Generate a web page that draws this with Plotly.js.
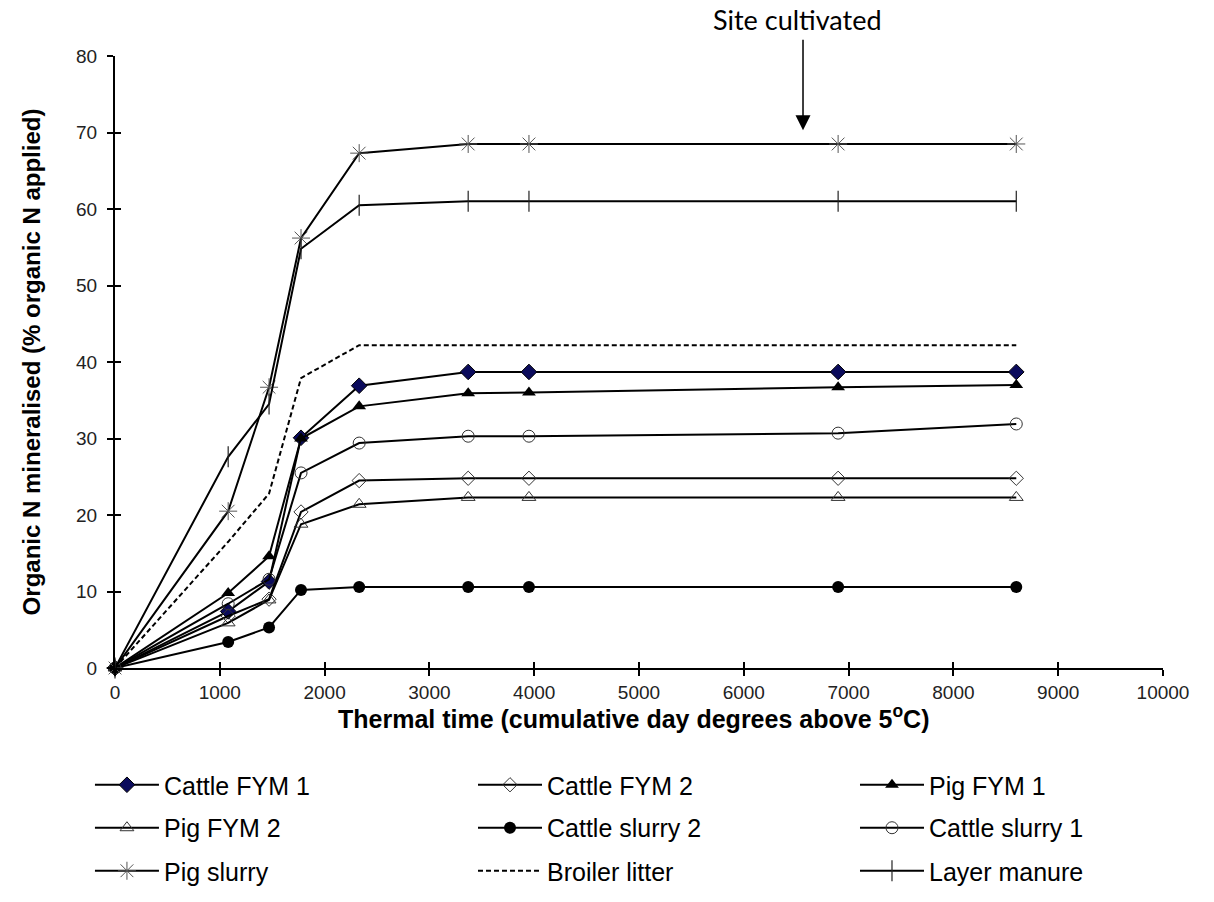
<!DOCTYPE html>
<html>
<head>
<meta charset="utf-8">
<script src="https://cdn.plot.ly/plotly-3.0.1.min.js"></script>
<style>html,body{margin:0;padding:0;background:#fff;}#chart{width:1214px;height:902px;}</style>
</head>
<body>
<div id="chart"></div>
<script>
// Thermal time (cumulative day degrees above 5 C)
const thermalTime = [0, 1080, 1470, 1775, 2330, 3370, 3950, 6900, 8600];

const cattleFYM1    = [0, 7.4, 11.3, 30.1, 36.9, 38.7, 38.7, 38.7, 38.7];
const cattleFYM2    = [0, 6.8, 9.0, 20.4, 24.5, 24.8, 24.8, 24.8, 24.8];
const pigFYM1       = [0, 9.8, 14.6, 30.0, 34.2, 35.9, 36.0, 36.7, 37.0];
const pigFYM2       = [0, 5.9, 8.9, 18.8, 21.4, 22.3, 22.3, 22.3, 22.3];
const cattleSlurry2 = [0, 3.4, 5.3, 10.2, 10.6, 10.6, 10.6, 10.6, 10.6];
const cattleSlurry1 = [0, 8.4, 11.6, 25.5, 29.4, 30.3, 30.3, 30.7, 31.9];
const pigSlurry     = [0, 20.5, 36.7, 56.2, 67.3, 68.5, 68.5, 68.5, 68.5];
const broilerLitter = [0, 16.5, 22.8, 37.9, 42.2, 42.2, 42.2, 42.2, 42.2];
const layerManure   = [0, 27.6, 34.5, 54.8, 60.5, 61.0, 61.0, 61.0, 61.0];

const seriesNames = ["Cattle FYM 1", "Cattle FYM 2", "Pig FYM 1",
                     "Pig FYM 2", "Cattle slurry 2", "Cattle slurry 1",
                     "Pig slurry", "Broiler litter", "Layer manure"];

const xTickVals = [0,1000,2000,3000,4000,5000,6000,7000,8000,9000,10000];
const xTickText = ["0","1000","2000","3000","4000","5000","6000","7000","8000","9000","10000"];
const yTickVals = [0,10,20,30,40,50,60,70,80];
const yTickText = ["0","10","20","30","40","50","60","70","80"];

const xTitle = 'Thermal time (cumulative day degrees above 5<sup>o</sup>C)';
const yTitle = 'Organic N mineralised (% organic N applied)';
const noteText = 'Site cultivated';
const cultivatedX = 6565, cultivatedY = 70.3;

const legendIds = ['legend','legend2','legend3','legend4','legend5','legend6','legend7','legend8','legend9'];

function tr(i, y, marker, lineExtra) {
  const t = {
    x: thermalTime, y: y, name: seriesNames[i], type: 'scatter',
    mode: marker ? 'lines+markers' : 'lines',
    line: Object.assign({color: '#000', width: 2}, lineExtra || {}),
    legend: legendIds[i], cliponaxis: false
  };
  if (marker) t.marker = marker;
  return t;
}

const data = [
  tr(0, cattleFYM1, {symbol:'diamond', size:12, color:'#0b0b5c', line:{color:'#000', width:1}}),
  tr(1, cattleFYM2, {symbol:'diamond-open', size:11, color:'#333', line:{width:1}}),
  tr(2, pigFYM1, {symbol:'triangle-up', size:12, color:'#000'}),
  tr(3, pigFYM2, {symbol:'triangle-up-open', size:12, color:'#333', line:{width:1}}),
  tr(4, cattleSlurry2, {symbol:'circle', size:12, color:'#000'}),
  tr(5, cattleSlurry1, {symbol:'circle-open', size:12, color:'#333', line:{width:1}}),
  tr(6, pigSlurry, {symbol:'asterisk-open', size:15, color:'#555', line:{width:1}}),
  tr(7, broilerLitter, null, {dash:'5px,3px', width:2}),
  tr(8, layerManure, {symbol:'line-ns-open', size:15, color:'#222', line:{width:1.2}})
];

// invisible helper trace so the overlay axes (crossing tick marks) are drawn
data.push({x:[0], y:[0], xaxis:'x2', yaxis:'y2', type:'scatter', mode:'markers',
           marker:{opacity:0}, showlegend:false, hoverinfo:'skip'});

const FONT = 'Liberation Sans, Arial, sans-serif';
const tickFont = {family:FONT, size:19, color:'#222'};
const legFont = {family:FONT, size:25, color:'#000'};

const colX = [-0.0239, 0.3416, 0.7061];
const rowY = [-0.1912, -0.2614, -0.3317];

const layout = {
  width:1214, height:902,
  margin:{l:115, r:51, t:56, b:234, autoexpand:false},
  paper_bgcolor:'#fff', plot_bgcolor:'#fff',
  font:{family:FONT, color:'#000'},
  showlegend:true,
  xaxis:{
    range:[0,10000], tickvals:xTickVals, ticktext:xTickText, ticks:'outside', ticklen:6, tickwidth:2, tickcolor:'#000',
    showline:true, linecolor:'#000', linewidth:2, showgrid:false, zeroline:false,
    tickfont:tickFont, ticklabelstandoff:0, automargin:false
  },
  yaxis:{
    range:[0,80], tickvals:yTickVals, ticktext:yTickText, ticks:'outside', ticklen:6, tickwidth:2, tickcolor:'#000',
    showline:true, linecolor:'#000', linewidth:2, showgrid:false, zeroline:false,
    tickfont:tickFont, ticklabelstandoff:6, automargin:false,
    title:{text:'<b>' + yTitle + '</b>', font:{family:FONT, size:24, color:'#000'}, standoff:29}
  },
  xaxis2:{overlaying:'x', anchor:'y2', side:'bottom', range:[0,10000], tickvals:xTickVals,
          ticks:'inside', ticklen:6, tickwidth:2, tickcolor:'#000', showticklabels:false,
          showline:false, showgrid:false, zeroline:false},
  yaxis2:{overlaying:'y', anchor:'x2', side:'left', range:[0,80], tickvals:yTickVals,
          ticks:'inside', ticklen:6, tickwidth:2, tickcolor:'#000', showticklabels:false,
          showline:false, showgrid:false, zeroline:false},
  annotations:[
    {x:cultivatedX, y:cultivatedY, xref:'x', yref:'y', text:'', showarrow:true,
     ax:0, ay:-92, arrowhead:2, arrowsize:2, arrowwidth:1.5, arrowcolor:'#000'},
    {x:(797-115)/1048, y:(668-20)/612, xref:'paper', yref:'paper', text:noteText,
     showarrow:false, xanchor:'center', yanchor:'middle',
     font:{family:'Lato, Open Sans, sans-serif', size:27, color:'#000'}},
    {x:(633-115)/1048, y:(668-717)/612, xref:'paper', yref:'paper', text:'<b>' + xTitle + '</b>',
     showarrow:false, xanchor:'center', yanchor:'middle',
     font:{family:FONT, size:25, color:'#000'}}
  ]
};

legendIds.forEach(function(id, i) {
  layout[id] = {orientation:'v', x:colX[i % 3], xanchor:'left', y:rowY[Math.floor(i / 3)], yanchor:'middle',
                font:legFont, itemwidth:64, bgcolor:'rgba(0,0,0,0)'};
});

Plotly.newPlot('chart', data, layout, {displayModeBar:false, staticPlot:true});
</script>
</body>
</html>
